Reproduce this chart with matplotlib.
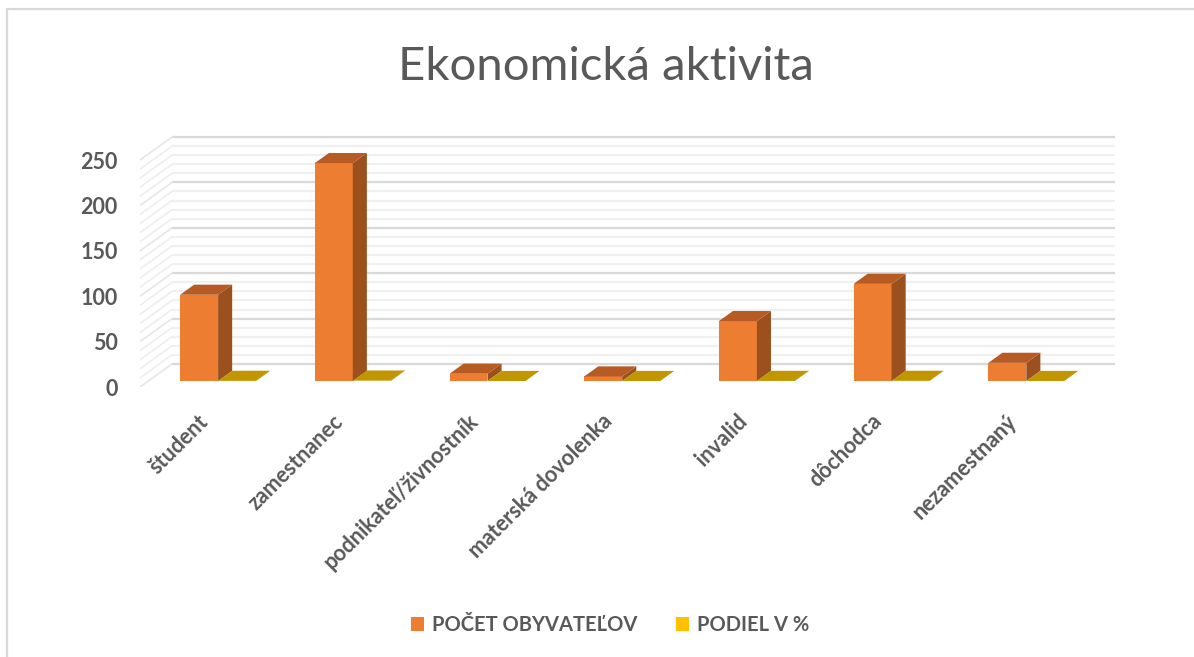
import matplotlib.pyplot as plt
from matplotlib.patches import Polygon, Rectangle

categories = ["študent", "zamestnanec", "podnikateľ/živnostník",
              "materská dovolenka", "invalid", "dôchodca", "nezamestnaný"]
pocet = [95, 240, 8, 5, 66, 107, 20]
podiel = [0.18, 0.44, 0.01, 0.01, 0.12, 0.20, 0.04]
series_names = ["POČET OBYVATEĽOV", "PODIEL V %"]
y_ticks = [0, 50, 100, 150, 200, 250]
grid_values = list(range(0, 251, 10))

TEXT = "#595959"
FONT = ["Lato", "DejaVu Sans"]

# colours per series: front, top, side
front_colors = ["#ED7D31", "#FFC000"]
top_colors = ["#B65B23", "#C29600"]
side_colors = ["#9B501E", "#A07C00"]

W, H = 1194, 657
fig = plt.figure(figsize=(W / 100, H / 100), dpi=100)

# pseudo 3D geometry (front plane in pixels)
slot_px = 134.7
left_px, bottom_px = 140, 387
px_per_unit = 0.908
DX = 32 / slot_px          # depth shift in x (data units)
DY = 23 / px_per_unit      # depth shift in y (data units)
ymax = 280
n = len(categories)

ax = fig.add_axes([left_px / W, (H - bottom_px) / H,
                   (n * slot_px + 32) / W, ymax * px_per_unit / H])
ax.set_xlim(-0.5, n - 0.5 + DX)
ax.set_ylim(0, ymax)
for sp in ax.spines.values():
    sp.set_visible(False)

# back wall and side wall gridlines
for v in grid_values:
    major = v % 50 == 0
    col = "#d9d9d9" if major else "#f0f0f0"
    ax.plot([-0.5 + DX, n - 0.5 + DX], [v + DY, v + DY], color=col,
            lw=1.6, zorder=1, solid_capstyle="butt")
    ax.plot([-0.5, -0.5 + DX], [v, v + DY], color="#e6e6e6" if major else "#eeeeee",
            lw=1.2, zorder=1)

# bars
fa, fb = 0.26, 0.70   # front and back depth fraction of the bars
bw = 0.282
xoff = 0.018
for k, vals in enumerate([pocet, podiel]):
    xl = [i - bw + k * bw + xoff for i in range(n)]
    ax.bar([x + fa * DX for x in xl], vals, width=bw, bottom=fa * DY,
           align="edge", color=front_colors[k], label=series_names[k],
           zorder=3 + k, linewidth=0)
    for x, v in zip(xl, vals):
        xr = x + bw
        top = [(x + fa * DX, v + fa * DY), (xr + fa * DX, v + fa * DY),
               (xr + fb * DX, v + fb * DY), (x + fb * DX, v + fb * DY)]
        side = [(xr + fa * DX, fa * DY), (xr + fb * DX, fb * DY),
                (xr + fb * DX, v + fb * DY), (xr + fa * DX, v + fa * DY)]
        ax.add_patch(Polygon(side, closed=True, facecolor=side_colors[k],
                             edgecolor="none", zorder=3 + k))
        ax.add_patch(Polygon(top, closed=True, facecolor=top_colors[k],
                             edgecolor="none", zorder=3 + k))

ax.set_yticks(y_ticks)
ax.set_yticklabels([str(t) for t in y_ticks], fontsize=15.5, fontweight="bold",
                   color=TEXT, family=FONT)
ax.set_xticks([i + 0.04 for i in range(n)])
ax.set_xticklabels(categories, rotation=45, ha="right", va="top",
                   fontsize=15.5, fontweight="bold", color=TEXT, family=FONT)
ax.tick_params(axis="y", length=0, pad=16)
ax.tick_params(axis="x", length=0, pad=17)

fig.text(606 / W, 1 - 67 / H, "Ekonomická aktivita", ha="center", va="center",
         fontsize=34, color=TEXT, family=FONT, fontweight="normal")

handles, labels = ax.get_legend_handles_labels()
leg = fig.legend(handles, labels, loc="center", bbox_to_anchor=(610 / W, 1 - 625 / H),
                 ncol=2, frameon=False, handlelength=0.65, handleheight=0.65,
                 handletextpad=0.4, columnspacing=1.9,
                 prop={"family": FONT, "weight": "bold", "size": 14.5})
for t in leg.get_texts():
    t.set_color(TEXT)

# chart border (right and bottom edges lie outside the image)
fig.add_artist(Rectangle((7 / W, -0.1), 1.2, 1 - 9 / H + 0.1,
                         transform=fig.transFigure, fill=False,
                         edgecolor="#d9d9d9", lw=1.6))

fig.savefig("out.png", dpi=100, facecolor="white")
